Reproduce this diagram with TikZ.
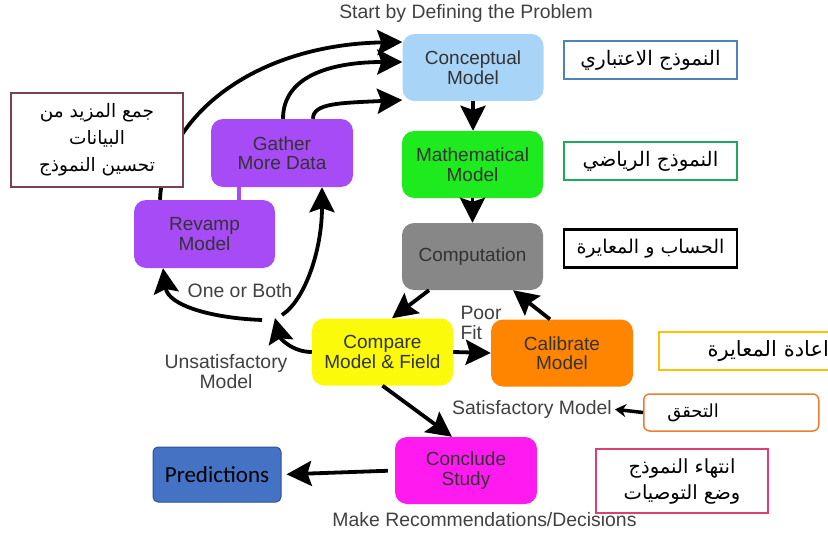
\documentclass[tikz,border=0pt]{standalone}
\usepackage{fontspec}
\setmainfont{Liberation Sans}
\newfontfamily\arabicfont[Script=Arabic]{DejaVu Sans}
\newfontfamily\calib{Carlito}
\TeXXeTstate=1
\usetikzlibrary{arrows.meta}
\definecolor{cblue}{HTML}{A8D4F8}
\definecolor{cgreen}{HTML}{1EEB1E}
\definecolor{cgray}{HTML}{878787}
\definecolor{cyellow}{HTML}{FAFA0A}
\definecolor{corange}{HTML}{FF8400}
\definecolor{cmag}{HTML}{FF1AF0}
\definecolor{cpurple}{HTML}{A64BF5}
\definecolor{abblue}{HTML}{4F81BD}
\definecolor{abgreen}{HTML}{1EAA5A}
\definecolor{abgold}{HTML}{FFC000}
\definecolor{aborange}{HTML}{ED7D31}
\definecolor{abpink}{HTML}{DC4072}
\definecolor{abmaroon}{HTML}{7F3F4C}
\definecolor{txtgray}{HTML}{333333}
\definecolor{lblgray}{HTML}{404040}
\definecolor{predblue}{HTML}{4472C4}
\definecolor{predborder}{HTML}{2F528F}
\begin{document}
\begin{tikzpicture}[x=1pt,y=-1pt,
  proc/.style={rounded corners=12pt, minimum width=141pt, minimum height=67pt, inner sep=0pt, align=center, text=txtgray, font=\fontsize{19}{19.5}\selectfont},
  lbl/.style={text=lblgray, font=\fontsize{19.4}{20}\selectfont, inner sep=0pt, align=center},
  arbox/.style={draw, line width=2pt, fill=white, minimum width=173pt, minimum height=38pt, inner sep=0pt, font=\arabicfont\fontsize{20}{27}\selectfont},
  flow/.style={line width=3.8pt, -{Stealth[length=25pt,width=25pt,inset=4pt]}},
]
\useasboundingbox (0,0) rectangle (828,535);

% process nodes
\node[proc, fill=cblue] (concept) at (473,67.5) {Conceptual\\Model};
\node[proc, fill=cgreen] (math) at (472.5,164.5) {Mathematical\\Model};
\node[proc, fill=cgray] (comp) at (472.5,256.5) {Computation};
\node[proc, fill=cyellow] (compare) at (382.5,352) {Compare\\Model \& Field};
\node[proc, fill=corange, minimum width=142pt] (calib) at (562,353) {Calibrate\\Model};
\node[proc, fill=cmag, minimum width=142pt] (conclude) at (466,470.5) {Conclude\\Study};
\node[proc, fill=cpurple, minimum width=142pt, minimum height=68pt] (gather) at (282,153) {Gather\\More Data};
\node[proc, fill=cpurple, minimum height=68pt] (revamp) at (204.5,234) {Revamp\\Model};
\node[draw=predborder, fill=predblue, rounded corners=5pt, minimum width=128pt, minimum height=55pt, inner sep=0pt, font=\calib\fontsize{23}{24}\selectfont, line width=1pt] (pred) at (217,474.5) {Predictions};

% purple link
\coordinate (cx) at (239,0);
\draw[cpurple, line width=4pt] (revamp.north -| cx) -- (gather.south -| cx);

% upper curved arrows
\draw[flow] ([xshift=-44.5pt]revamp.north) .. controls (163,120) and (250,45) .. ([yshift=25.5pt]concept.west);
\draw[flow] ([xshift=1pt]gather.north) .. controls (283,72) and (340,62) .. ([yshift=5.5pt]concept.west);
\draw[flow] ([xshift=31pt]gather.north) .. controls (313,103) and (340,103) .. ([yshift=-32.5pt]concept.west);

% straight arrows
\draw[flow] (concept.south) -- (concept.south |- math.north);
\draw[flow] (math.south) -- (math.south |- comp.north);
\draw[flow] ([xshift=-43.5pt]comp.south) -- ([xshift=9.5pt]compare.north);
\draw[flow] ([xshift=-12pt]calib.north) -- ([xshift=40.5pt]comp.south);
\draw[flow] (compare.east) -- (calib.west);
\draw[flow] (compare.south) -- ([xshift=-14pt]conclude.north);
\draw[flow, shorten <=7pt, shorten >=5pt] (conclude.west) -- (pred.east);

% junction arrows
\coordinate (junc) at (275,318);
\coordinate (j1) at (262,320);
\coordinate (j2) at (282,315);
\draw[flow] (compare.west) .. controls (292,352) and (280,338) .. (junc);
\draw[flow] (j1) .. controls (210,318) and (168,305) .. ([xshift=-41.5pt]revamp.south);
\draw[flow] (j2) .. controls (305,300) and (322,250) .. ([xshift=40pt]gather.south);

% labels
\node[lbl] (start) at (466,13) {Start by Defining the Problem};
\node[lbl] (make) at (484.5,520) {Make Recommendations/Decisions};
\node[lbl, anchor=west] (sat) at (452,409) {Satisfactory Model};
\node[lbl] (unsat) at (226,372) {Unsatisfactory\\Model};
\node[lbl] (oneboth) at (240,291) {One or Both};
\node[lbl, align=left] (poor) at (481,323) {Poor\\Fit};

% arabic boxes
\node[arbox, draw=abblue] (ar1) at (650.5,60) {\beginR النموذج الاعتباري\endR};
\node[arbox, draw=abgreen] (ar2) at (650.5,161) {\beginR النموذج الرياضي\endR};
\node[arbox, draw=black, line width=2.5pt, font=\arabicfont\fontsize{19}{27}\selectfont] (ar3) at (650.5,248.5) {\beginR الحساب و المعايرة\endR};
\begin{scope}
\clip (0,0) rectangle (828,535);
\node[arbox, draw=abgold, anchor=west, minimum width=0pt, text width=160pt, inner xsep=10pt, align=right, font=\arabicfont\fontsize{21}{27}\selectfont] (ar4) at (658,351) {\beginR اعادة المعايرة\endR};
\end{scope}
\node[arbox, draw=aborange, line width=1.5pt, rounded corners=6pt, anchor=west, minimum width=0pt, text width=150pt, inner xsep=12.5pt, minimum height=37pt, align=left, font=\arabicfont\fontsize{18}{27}\selectfont] (ar5) at (643,412.5) {\hspace*{11pt}\beginR التحقق\endR};
\node[arbox, draw=abpink, minimum width=172pt, minimum height=64pt, align=center, font=\arabicfont\fontsize{19.5}{26}\selectfont] (ar6) at (682,481) {\beginR انتهاء النموذج\endR\\\beginR وضع التوصيات\endR};
\node[arbox, draw=abmaroon, minimum width=172pt, minimum height=94pt, align=center, font=\arabicfont\fontsize{18.5}{27}\selectfont] (ar7) at (97,140) {\beginR جمع المزيد من\endR\\\beginR البيانات\endR\\\beginR تحسين النموذج\endR};

\draw[line width=3.5pt, -{Stealth[length=11pt,width=13pt]}, shorten >=3pt] (ar5.west) -- (sat.east);
\end{tikzpicture}
\end{document}
